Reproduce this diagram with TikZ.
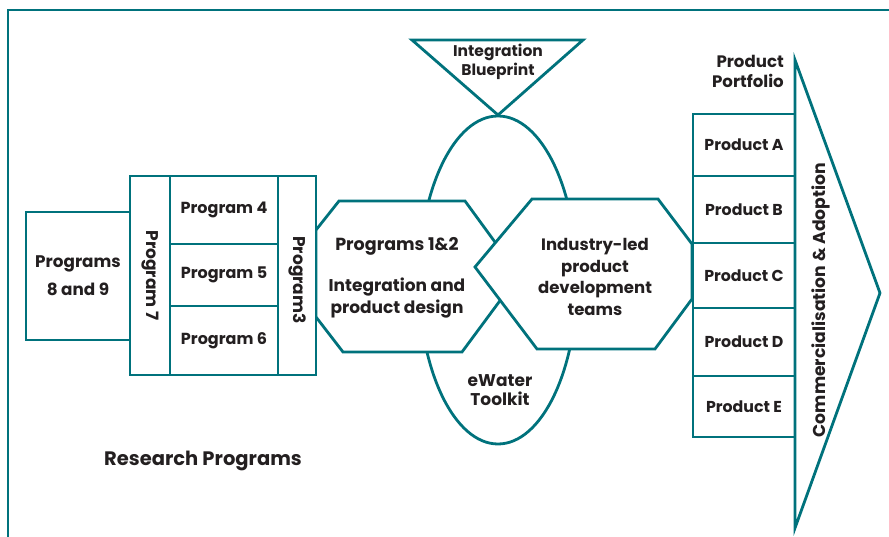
\documentclass[tikz,border=0pt]{standalone}
\usepackage{fontspec}
\setmainfont{Poppins}
\usetikzlibrary{shapes.geometric}
\definecolor{tealc}{RGB}{0,114,124}
\definecolor{inkc}{RGB}{35,31,32}
\newcommand{\fz}[2]{\fontsize{#1}{#2}\selectfont\bfseries}
\begin{document}
\begin{tikzpicture}[x=1pt,y=-1pt,
  ln/.style={draw=tealc,line width=2.8pt,line join=miter},
  pbox/.style={ln,fill=white,rectangle,inner sep=0pt,text=inkc,font=\fz{16}{20},align=center},
  txt/.style={text=inkc,font=\fz{16.5}{20},align=center,inner sep=0pt},
]
\useasboundingbox (0,0) rectangle (889,537);
% frame
\draw[ln] (8,545) -- (8,10) -- (895,10);
% ellipse
\node[ln,ellipse,minimum width=158pt,minimum height=328pt,inner sep=0pt] (ell) at (498,280) {};
% triangle
\coordinate (t1) at (412,40);
\coordinate (t2) at (583,40);
\coordinate (t3) at (498,115);
\draw[ln,fill=white] (t1) -- (t2) -- (t3) -- cycle;
\node[txt,font=\fz{15.5}{19}] (blue) at (498,62) {Integration\\Blueprint};
% left hexagon
\draw[ln,fill=white] (316,230) -- (339,201) -- (465,201) -- (519,275) -- (462,352) -- (343,352) -- (316,317) -- cycle;
% industry hexagon
\draw[ln,fill=white] (475,267) -- (532,199) -- (658,199) -- (692,244) -- (692,299) -- (655,349) -- (537,349) -- cycle;
% program boxes
\node[pbox,font=\fz{16.8}{28},minimum width=104pt,minimum height=128pt] (p89) at (78,276) {Programs\\8 and 9};
\node[pbox,minimum width=40pt,minimum height=199pt] (p7) at (150,275.5) {};
\node[pbox,minimum width=108pt,minimum height=68pt] (p4) at (224,210) {Program 4};
\node[pbox,minimum width=108pt,minimum height=62pt] (p5) at (224,275) {Program 5};
\node[pbox,minimum width=108pt,minimum height=69pt] (p6) at (224,340.5) {Program 6};
\node[pbox,minimum width=38pt,minimum height=199pt] (p3) at (297,275.5) {};
\node[txt,font=\fz{17}{20},rotate=-90] (p7t) at (p7) {Program 7};
\node[txt,font=\fz{17}{20},rotate=-90] (p3t) at (298,280) {Program3};
% hexagon texts
\node[txt,font=\fz{17.5}{20}] (p12) at (397,246) {Programs 1\&2};
\node[txt,font=\fz{17}{22}] (integ) at (397,298) {Integration and\\product design};
\node[txt,font=\fz{16.5}{21.5}] (ind) at (595,277) {Industry-led\\product\\development\\teams};
\node[txt,font=\fz{17}{19}] (ewt) at (500,390) {eWater\\Toolkit};
% products
\node[pbox,font=\fz{15.8}{20},minimum width=102pt,minimum height=62pt] (pa) at (744,145) {Product A};
\node[pbox,font=\fz{15.8}{20},minimum width=102pt,minimum height=67pt] (pb) at (744,209.5) {Product B};
\node[pbox,font=\fz{15.8}{20},minimum width=102pt,minimum height=65pt] (pc) at (744,275.5) {Product C};
\node[pbox,font=\fz{15.8}{20},minimum width=102pt,minimum height=68pt] (pd) at (744,342) {Product D};
\node[pbox,font=\fz{15.8}{20},minimum width=102pt,minimum height=61pt] (pe) at (744,406.5) {Product E};
% big arrow
\coordinate (a1) at (795,60);
\coordinate (a2) at (880,293);
\coordinate (a3) at (795,528);
\draw[ln] (a1) -- (a2) -- (a3) -- cycle;
\node[txt,font=\fz{17.2}{20},rotate=90] (comm) at (821,300) {Commercialisation \& Adoption};
\node[txt,align=right,anchor=east,font=\fz{16.6}{20}] (port) at (784,71) {Product\\Portfolio};
\node[txt,font=\fz{19.5}{22}] (res) at (203,461) {Research Programs};
\end{tikzpicture}
\end{document}
